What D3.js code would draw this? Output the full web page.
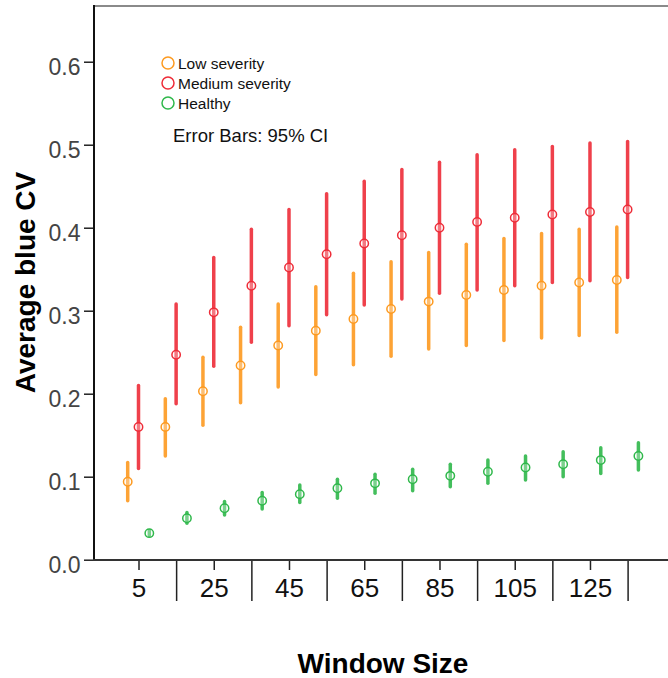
<!DOCTYPE html>
<html>
<head>
<meta charset="utf-8">
<script src="https://cdn.jsdelivr.net/npm/d3@7"></script>
<style>
  body { margin: 0; background: #fff; }
  svg text { font-family: "Liberation Sans", Arial, sans-serif; }
</style>
</head>
<body>
<div id="chart"></div>
<script>
// window sizes (categories), every other one is labelled
var windows = [5, 15, 25, 35, 45, 55, 65, 75, 85, 95, 105, 115, 125, 135];
var groups = ["Low severity", "Medium severity", "Healthy"];

// mean and 95% CI per window size
var lowMean  = [0.094, 0.160, 0.203, 0.234, 0.258, 0.276, 0.290, 0.302, 0.311, 0.319, 0.325, 0.330, 0.334, 0.337];
var lowLo    = [0.071, 0.125, 0.162, 0.189, 0.208, 0.223, 0.235, 0.245, 0.254, 0.258, 0.264, 0.267, 0.270, 0.274];
var lowHi    = [0.117, 0.194, 0.244, 0.280, 0.308, 0.329, 0.345, 0.359, 0.370, 0.380, 0.387, 0.393, 0.398, 0.401];

var medMean  = [0.160, 0.247, 0.298, 0.330, 0.352, 0.368, 0.381, 0.391, 0.400, 0.407, 0.412, 0.416, 0.419, 0.422];
var medLo    = [0.110, 0.188, 0.233, 0.262, 0.282, 0.295, 0.307, 0.314, 0.321, 0.325, 0.330, 0.334, 0.336, 0.340];
var medHi    = [0.210, 0.308, 0.364, 0.398, 0.422, 0.441, 0.456, 0.470, 0.479, 0.488, 0.494, 0.498, 0.502, 0.504];

var hlthMean = [0.032, 0.050, 0.062, 0.071, 0.079, 0.086, 0.092, 0.097, 0.101, 0.106, 0.111, 0.115, 0.120, 0.125];
var hlthLo   = [0.029, 0.044, 0.054, 0.061, 0.069, 0.074, 0.080, 0.083, 0.088, 0.092, 0.096, 0.100, 0.104, 0.108];
var hlthHi   = [0.035, 0.057, 0.070, 0.081, 0.090, 0.097, 0.103, 0.109, 0.115, 0.120, 0.125, 0.130, 0.135, 0.141];

var yTicks = [0, 0.1, 0.2, 0.3, 0.4, 0.5, 0.6];

var colors = {"Low severity": "#fd9a20", "Medium severity": "#ee2c38", "Healthy": "#2fb84b"};

var series = [
  {name: "Low severity", mean: lowMean, lo: lowLo, hi: lowHi},
  {name: "Medium severity", mean: medMean, lo: medLo, hi: medHi},
  {name: "Healthy", mean: hlthMean, lo: hlthLo, hi: hlthHi}
];

var svgWidth = 668;
var svgHeight = 678;

var svg = d3.select("#chart")
  .append("svg")
  .attr("width", svgWidth)
  .attr("height", svgHeight);

// scales
var xScale = d3.scalePoint()
  .domain(windows)
  .range([138.5, 627.6]);

var offset = d3.scalePoint()
  .domain(groups)
  .range([-10.8, 10.8]);

var yScale = d3.scaleLinear()
  .domain([0, 0.6675])
  .range([559.7, 5.7]);

var left = 94, bottom = 560;

// top frame line
svg.append("line")
  .attr("x1", left).attr("x2", svgWidth)
  .attr("y1", 6).attr("y2", 6)
  .attr("stroke", "#8a8a8a")
  .attr("stroke-width", 2);

// y axis
var yAxis = svg.append("g")
  .attr("transform", `translate(${left}, 0)`)
  .call(d3.axisLeft(yScale).tickValues(yTicks).tickFormat(d3.format(".1f")).tickSize(10).tickSizeOuter(0));

yAxis.select(".domain").remove();
yAxis.selectAll(".tick line").attr("stroke", "#222").attr("stroke-width", 1.5);
yAxis.selectAll(".tick text")
  .attr("font-size", "23px")
  .attr("fill", "#444")
  .attr("dx", "-0.5px")
  .attr("dy", "0.54em");

svg.append("line")
  .attr("x1", left).attr("x2", left)
  .attr("y1", 5).attr("y2", bottom + 1)
  .attr("stroke", "#111")
  .attr("stroke-width", 2);

// x axis
var xAxis = svg.append("g")
  .attr("transform", `translate(0, ${bottom})`)
  .call(d3.axisBottom(xScale)
    .tickFormat((d, i) => i % 2 === 0 ? d : "")
    .tickSize(10)
    .tickSizeOuter(0));

xAxis.select(".domain").remove();
xAxis.selectAll(".tick line")
  .attr("stroke", "#222")
  .attr("stroke-width", 1.5)
  .attr("y2", (d, i) => i % 2 === 0 ? 10 : 41);
xAxis.selectAll(".tick text")
  .attr("font-size", "26px")
  .attr("fill", "#111")
  .attr("y", 18.5)
  .attr("dy", "0.71em");

svg.append("line")
  .attr("x1", left - 1).attr("x2", svgWidth)
  .attr("y1", bottom).attr("y2", bottom)
  .attr("stroke", "#333")
  .attr("stroke-width", 2);

// error bars
series.forEach(function(s) {
  var g = svg.append("g");
  var x = (d, i) => xScale(windows[i]) + offset(s.name);

  g.selectAll("line")
    .data(s.mean)
    .enter()
    .append("line")
    .attr("x1", x).attr("x2", x)
    .attr("y1", (d, i) => yScale(s.lo[i]))
    .attr("y2", (d, i) => yScale(s.hi[i]))
    .attr("stroke", colors[s.name])
    .attr("stroke-width", 3.5)
    .attr("stroke-linecap", "round")
    .attr("opacity", 0.9);

  g.selectAll("circle")
    .data(s.mean)
    .enter()
    .append("circle")
    .attr("cx", x)
    .attr("cy", d => yScale(d))
    .attr("r", 4.2)
    .attr("fill", "#fff")
    .attr("fill-opacity", 0.3)
    .attr("stroke", colors[s.name])
    .attr("stroke-width", 1.5);
});

// legend
var legend = svg.append("g");
groups.forEach(function(name, i) {
  legend.append("circle")
    .attr("cx", 168)
    .attr("cy", 63 + i * 20)
    .attr("r", 6)
    .attr("fill", "none")
    .attr("stroke", colors[name])
    .attr("stroke-width", 1.5);
  legend.append("text")
    .attr("x", 178)
    .attr("y", 63 + i * 20)
    .attr("dy", "0.4em")
    .attr("font-size", "15.5px")
    .attr("fill", "#111")
    .text(name);
});

svg.append("text")
  .attr("x", 173)
  .attr("y", 141.5)
  .attr("font-size", "18.5px")
  .attr("fill", "#111")
  .text("Error Bars: 95% CI");

// axis titles
svg.append("text")
  .attr("transform", "rotate(-90)")
  .attr("x", -282.5)
  .attr("y", 35)
  .attr("text-anchor", "middle")
  .attr("font-size", "28px")
  .attr("font-weight", "bold")
  .attr("fill", "#000")
  .text("Average blue CV");

svg.append("text")
  .attr("x", 383)
  .attr("y", 673)
  .attr("text-anchor", "middle")
  .attr("font-size", "28px")
  .attr("font-weight", "bold")
  .attr("fill", "#000")
  .text("Window Size");
</script>
</body>
</html>
